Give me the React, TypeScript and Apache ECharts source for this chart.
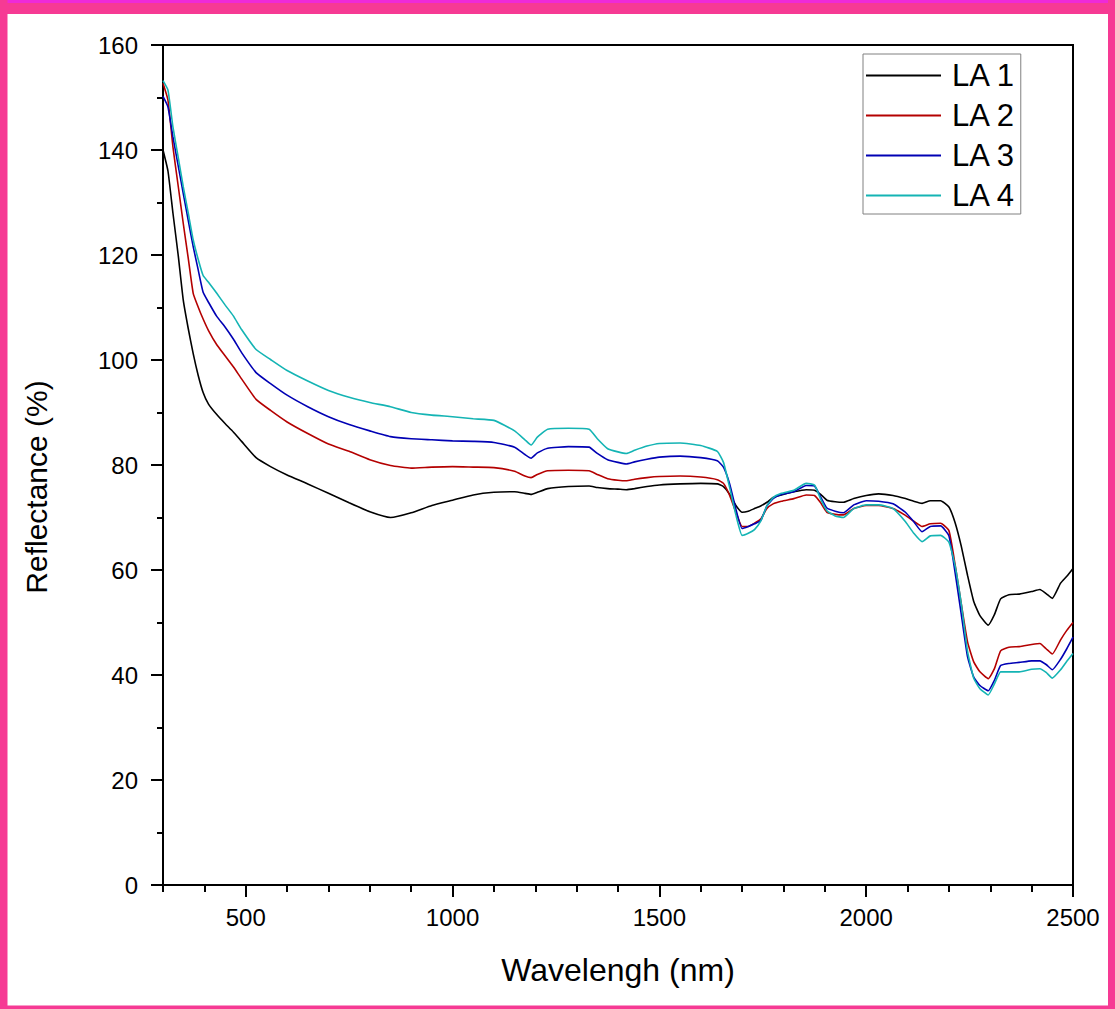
import React, { useEffect, useRef } from "react";
import * as echarts from "echarts";

const SERIES_NAMES = ["LA 1", "LA 2", "LA 3", "LA 4"];
const SERIES_COLORS = ["#000000", "#B40000", "#0000B4", "#14B4B4"];

const WAVELENGTHS = [
  300, 312, 324, 337, 349, 361, 373, 385, 397, 410, 430, 450, 470, 490, 525, 560, 600, 650, 700, 750,
  800, 850, 900, 950, 1000, 1050, 1100, 1150, 1175, 1190, 1205, 1230, 1280, 1330, 1350, 1375, 1400, 1420,
  1440, 1470, 1500, 1550, 1600, 1640, 1655, 1670, 1685, 1700, 1715, 1730, 1745, 1760, 1775, 1795, 1825,
  1855, 1875, 1890, 1905, 1925, 1945, 1970, 2000, 2030, 2065, 2095, 2115, 2135, 2155, 2180, 2200, 2215,
  2230, 2245, 2260, 2275, 2295, 2310, 2325, 2345, 2370, 2400, 2420, 2435, 2450, 2470, 2485, 2500,
];

const LA1 = [
  140, 136, 128, 119.8, 111.4, 106, 101.2, 97.1, 93.8, 91.6, 89.6, 87.9, 86.3, 84.5, 81.4, 79.7, 78.1,
  76.4, 74.6, 72.8, 71.1, 70.0, 70.9, 72.3, 73.3, 74.3, 74.8, 74.9, 74.6, 74.4, 74.8, 75.5, 75.9, 76.0,
  75.7, 75.5, 75.4, 75.3, 75.5, 75.9, 76.2, 76.4, 76.5, 76.4, 75.9, 74.4, 72.3, 71.0, 71.2, 71.7, 72.2,
  72.9, 73.8, 74.3, 74.9, 75.3, 75.2, 74.4, 73.3, 73.0, 72.9, 73.6, 74.2, 74.5, 74.2, 73.6, 73.1, 72.7,
  73.2, 73.2, 72.0, 69.0, 64.5, 59.0, 54.0, 51.3, 49.5, 51.5, 54.5, 55.3, 55.4, 55.9, 56.3, 55.5, 54.6,
  57.5, 58.8, 60.3,
];

const LA2 = [
  152.7, 149.5, 140.6, 133.0, 126.0, 119.4, 112.7, 110.1, 107.8, 105.6, 102.9, 100.8, 98.7, 96.4, 92.5,
  90.4, 88.2, 86.0, 84.0, 82.6, 81.0, 79.9, 79.4, 79.6, 79.7, 79.6, 79.5, 78.8, 77.9, 77.6, 78.2, 78.9,
  79.0, 78.9, 78.2, 77.4, 77.1, 77.0, 77.3, 77.6, 77.8, 77.9, 77.7, 77.2, 76.5, 74.2, 71.0, 68.3, 68.3,
  68.9, 69.7, 71.7, 72.6, 73.1, 73.6, 74.3, 74.2, 72.8, 71.0, 70.6, 70.5, 71.7, 72.3, 72.3, 71.7, 70.4,
  69.3, 68.3, 68.8, 68.9, 67.5, 61.0, 53.5, 46.3, 42.5, 40.6, 39.3, 41.2, 44.6, 45.3, 45.4, 45.8, 46.0,
  45.0, 44.0, 46.7, 48.5, 50.0,
];

const LA3 = [
  150.2, 148.2, 142.5, 136.9, 131.7, 126.6, 121.6, 117.2, 112.9, 111.0, 108.3, 106.3, 104.0, 101.4, 97.6,
  95.5, 93.3, 91.1, 89.2, 87.7, 86.5, 85.4, 85.0, 84.8, 84.6, 84.5, 84.3, 83.4, 82.0, 81.3, 82.3, 83.2,
  83.5, 83.4, 82.2, 81.0, 80.5, 80.2, 80.6, 81.1, 81.5, 81.7, 81.4, 80.8, 79.6, 76.4, 71.6, 67.9, 68.3,
  68.8, 69.4, 72.2, 73.6, 74.4, 74.9, 76.1, 76.0, 73.9, 71.8, 71.2, 70.9, 72.4, 73.2, 73.1, 72.6, 71.0,
  69.2, 67.3, 68.3, 68.4, 66.5, 59.5, 51.5, 43.5, 39.6, 38.0, 37.0, 39.0, 41.8, 42.2, 42.4, 42.7, 42.7,
  42.0, 41.0, 43.0, 45.0, 47.2,
];

const LA4 = [
  153.2, 151.4, 144.4, 138.5, 133.0, 128.0, 122.9, 119.2, 116.1, 114.8, 112.7, 110.5, 108.4, 105.8, 102.0,
  100.1, 98.0, 96.0, 94.2, 92.9, 91.9, 91.1, 90.0, 89.5, 89.2, 88.8, 88.5, 86.5, 84.8, 83.8, 85.3, 86.8,
  87.0, 86.8, 85.0, 83.1, 82.5, 82.2, 82.8, 83.6, 84.1, 84.2, 83.7, 82.6, 80.5, 75.7, 70.5, 66.6, 67.0,
  67.7, 69.3, 72.2, 73.8, 74.6, 75.2, 76.5, 76.2, 73.5, 71.3, 70.3, 70.0, 71.7, 72.4, 72.4, 71.7, 69.2,
  67.0, 65.4, 66.5, 66.6, 65.3, 60.8, 53.5, 44.5, 39.4, 37.4, 36.2, 38.3, 40.6, 40.6, 40.6, 41.1, 41.2,
  40.5, 39.4, 41.0, 42.6, 44.1,
];

const SERIES_VALUES = [LA1, LA2, LA3, LA4];
const X_LABEL_TICKS = [500, 1000, 1500, 2000, 2500];
const X_MIN = 300;
const X_MAX = 2500;
const Y_MIN = 0;
const Y_MAX = 160;

const FONT = "'Liberation Sans', Arial, sans-serif";
const PINK = "#F63A94";
const LINE_ICON = "path://M0,0 L75,0 L75,2 L0,2 Z";

export default function App() {
  const ref = useRef<HTMLDivElement>(null);

  useEffect(() => {
    if (!ref.current) return;
    const chart = echarts.init(ref.current, undefined, { renderer: "svg" });

    const series = SERIES_NAMES.map((name, i) => ({
      name,
      type: "line",
      xAxisIndex: 0,
      yAxisIndex: 0,
      data: WAVELENGTHS.map((w, j) => [w, SERIES_VALUES[i][j]]),
      symbol: "none",
      showSymbol: false,
      smooth: 0.15,
      color: SERIES_COLORS[i],
      lineStyle: { color: SERIES_COLORS[i], width: 1.6 },
    }));

    chart.setOption({
      animation: false,
      backgroundColor: "#ffffff",
      grid: {
        left: 163,
        top: 45,
        width: 910,
        height: 840,
        show: true,
        borderColor: "#000",
        borderWidth: 2,
        backgroundColor: "transparent",
      },
      xAxis: [
        {
          type: "value",
          min: X_MIN,
          max: X_MAX,
          interval: 100,
          position: "bottom",
          axisLine: { show: true, onZero: false, lineStyle: { color: "#000", width: 2 } },
          axisTick: { show: true, length: 7, lineStyle: { color: "#000", width: 2 } },
          axisLabel: { show: false },
          splitLine: { show: false },
        },
        {
          type: "value",
          min: X_MIN,
          max: X_MAX,
          position: "bottom",
          axisLine: { show: false },
          axisTick: {
            show: true,
            length: 12,
            customValues: X_LABEL_TICKS,
            lineStyle: { color: "#000", width: 2 },
          },
          axisLabel: {
            show: true,
            customValues: X_LABEL_TICKS,
            formatter: (v: number) => String(v),
            fontSize: 24,
            fontFamily: FONT,
            color: "#000",
            margin: 20,
          },
          splitLine: { show: false },
        },
      ],
      yAxis: [
        {
          type: "value",
          min: Y_MIN,
          max: Y_MAX,
          interval: 20,
          axisLine: { show: true, onZero: false, lineStyle: { color: "#000", width: 2 } },
          axisTick: { show: true, length: 12, lineStyle: { color: "#000", width: 2 } },
          minorTick: { show: true, splitNumber: 2, length: 6, lineStyle: { color: "#000", width: 2 } },
          axisLabel: { fontSize: 24, fontFamily: FONT, color: "#000", margin: 25 },
          splitLine: { show: false },
          minorSplitLine: { show: false },
        },
      ],
      legend: {
        show: true,
        orient: "vertical",
        left: 863,
        top: 54,
        selectedMode: false,
        itemWidth: 75,
        itemHeight: 30,
        itemGap: 9,
        padding: [6, 5, 3, 3],
        borderColor: "#808080",
        borderWidth: 1,
        backgroundColor: "#fff",
        textStyle: { fontSize: 31, fontFamily: FONT, color: "#000", padding: [0, 0, 0, 6] },
        data: SERIES_NAMES.map((name, i) => ({
          name,
          icon: LINE_ICON,
          itemStyle: { color: SERIES_COLORS[i] },
        })),
      },
      graphic: [
        { type: "rect", shape: { x: 0, y: 0, width: 1115, height: 14 }, style: { fill: PINK }, silent: true },
        { type: "rect", shape: { x: 0, y: 0, width: 1115, height: 3 }, style: { fill: "#EE2AD8" }, silent: true },
        { type: "rect", shape: { x: 0, y: 0, width: 7.5, height: 1009 }, style: { fill: PINK }, silent: true },
        { type: "rect", shape: { x: 1108, y: 0, width: 7, height: 1009 }, style: { fill: PINK }, silent: true },
        { type: "rect", shape: { x: 0, y: 1005.5, width: 1115, height: 4 }, style: { fill: PINK }, silent: true },
        {
          type: "text",
          x: 618,
          y: 970,
          style: {
            text: "Wavelengh (nm)",
            fontSize: 32,
            fontFamily: FONT,
            fill: "#000",
            align: "center",
            verticalAlign: "middle",
          },
        },
        {
          type: "text",
          x: 36,
          y: 487,
          rotation: Math.PI / 2,
          style: {
            text: "Reflectance (%)",
            fontSize: 30,
            fontFamily: FONT,
            fill: "#000",
            align: "center",
            verticalAlign: "middle",
          },
        },
      ],
      series,
    });

    return () => chart.dispose();
  }, []);

  return (
    <div
      ref={ref}
      style={{ position: "fixed", left: 0, top: 0, width: 1115, height: 1009, background: "#fff" }}
    />
  );
}
